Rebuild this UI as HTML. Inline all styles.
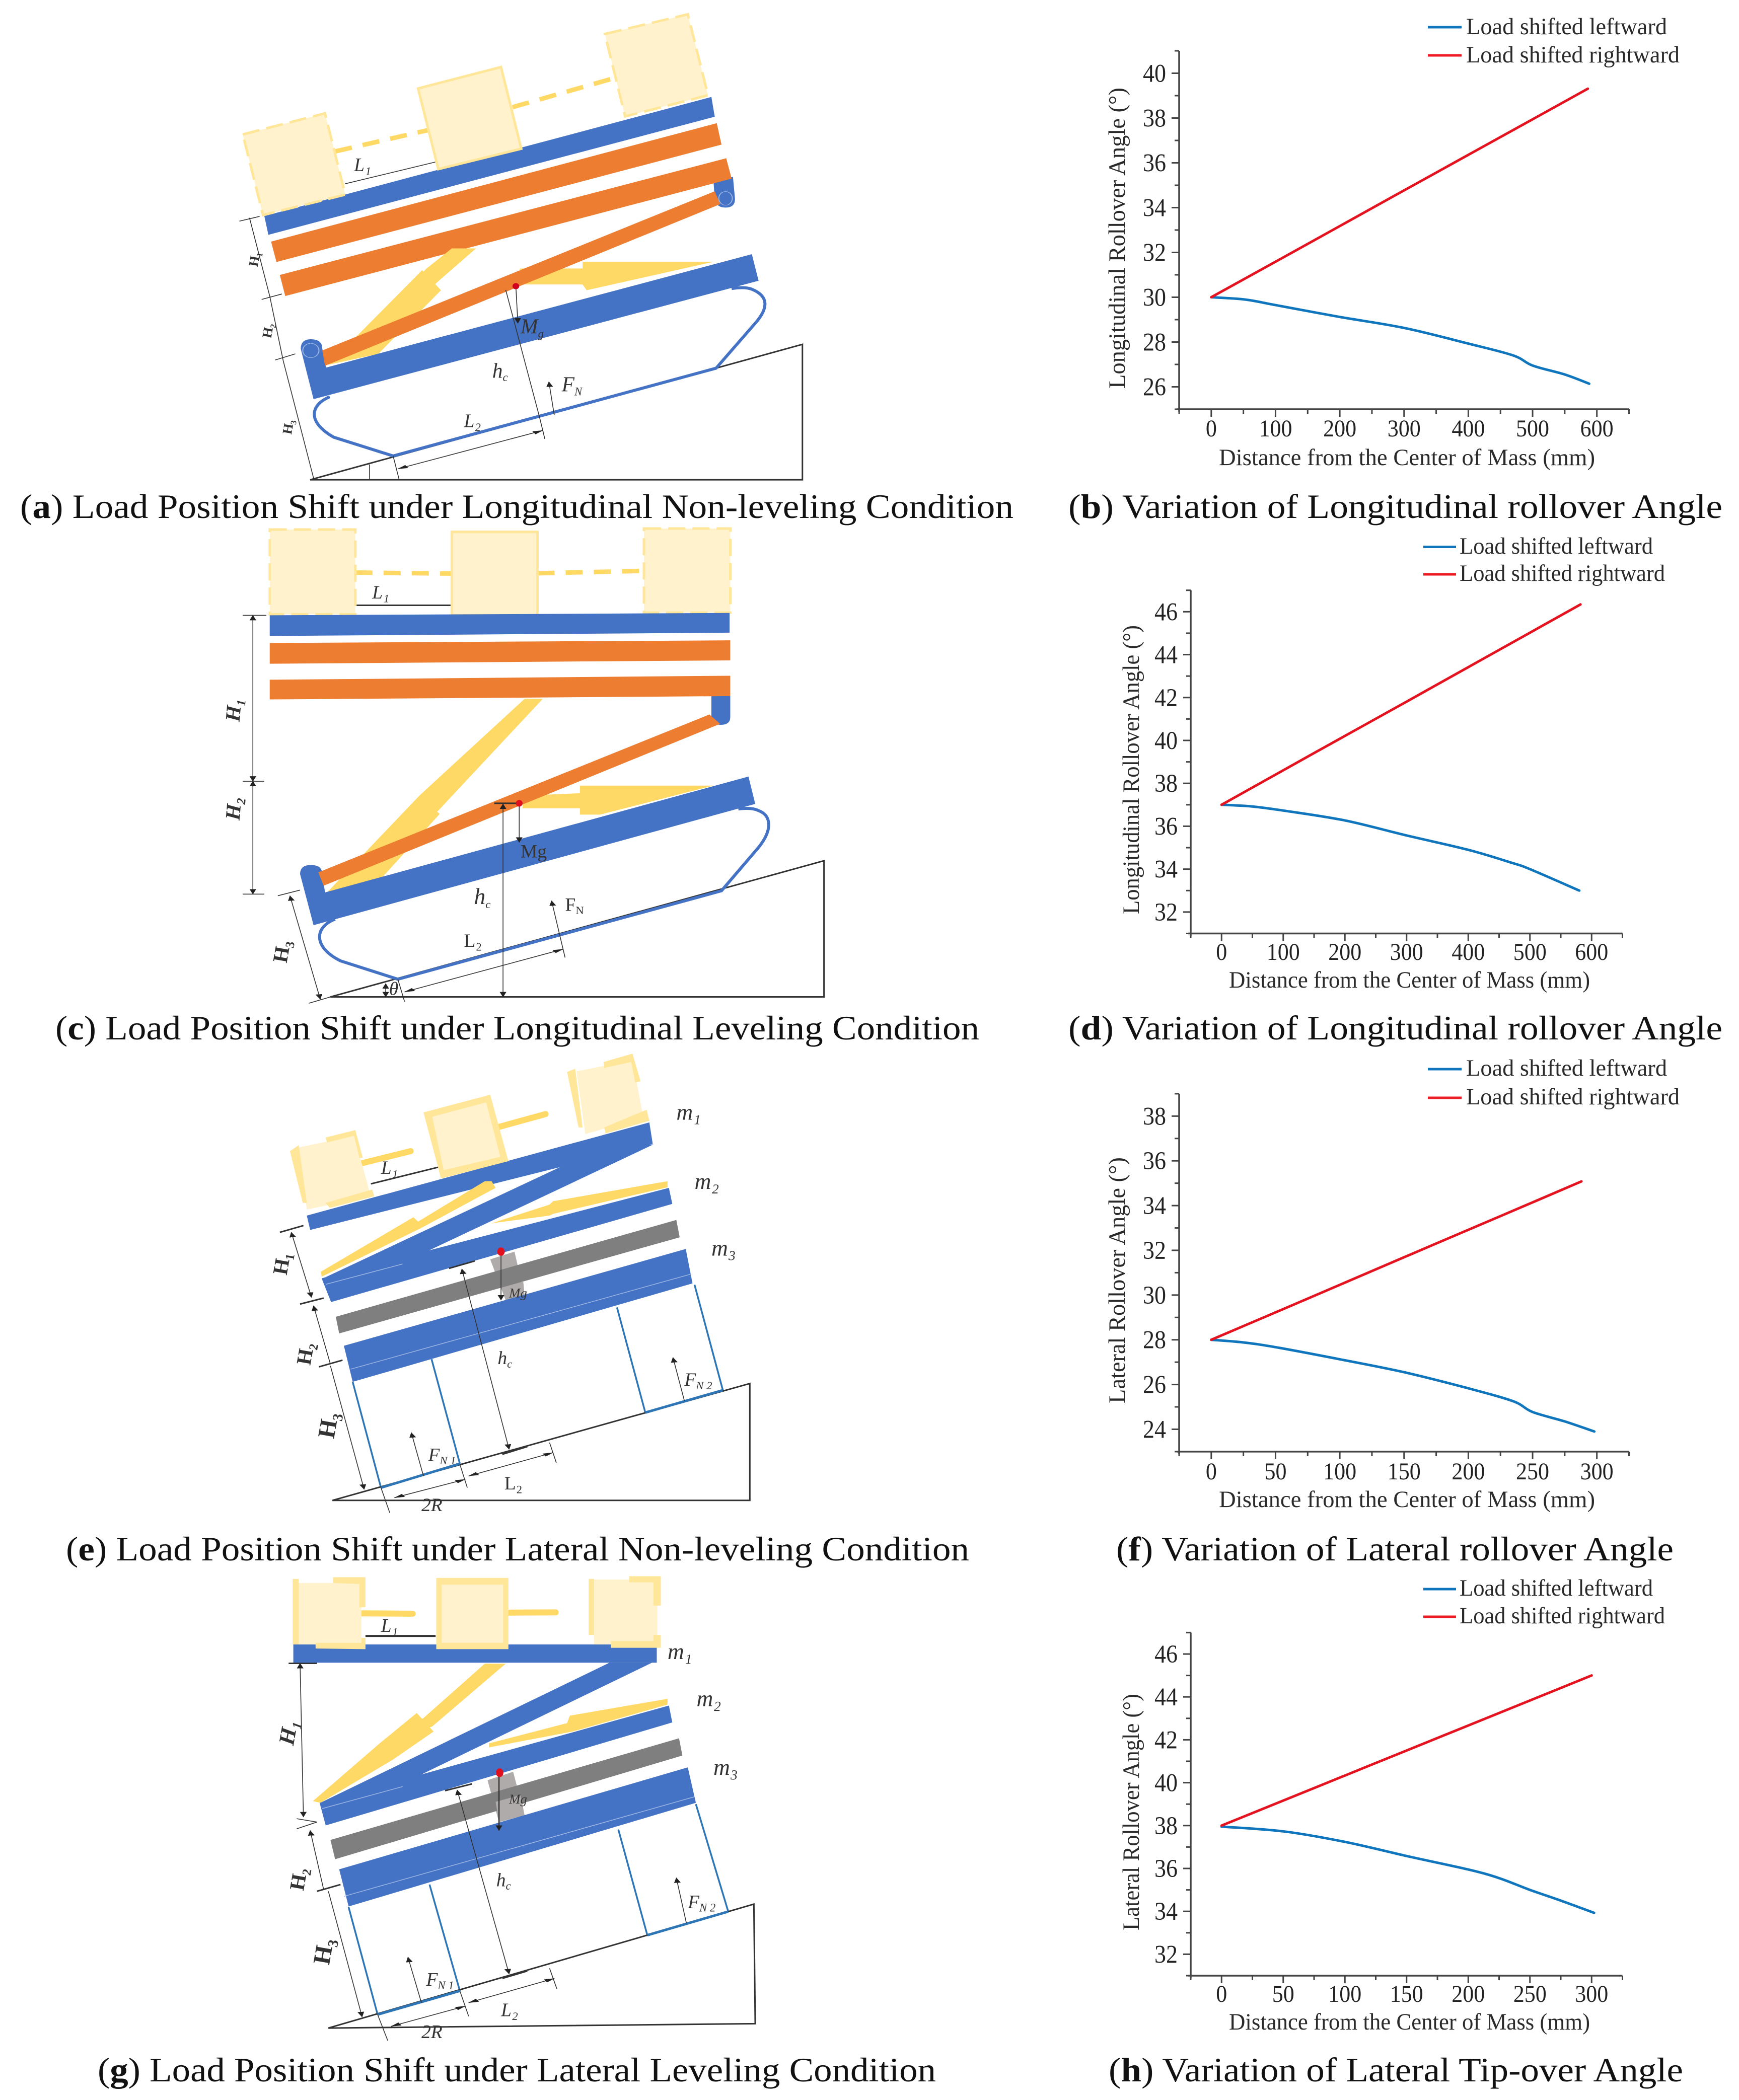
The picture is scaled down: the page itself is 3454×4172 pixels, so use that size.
<!DOCTYPE html>
<html lang="en">
<head>
<meta charset="utf-8">
<title>Load position shift and rollover angle figures</title>
<style>
html,body{margin:0;padding:0;background:#fff;}
svg{display:block;}
text{font-family:"Liberation Serif",serif;fill:#222;}
.cap{font-size:68px;fill:#111;}
.bl{fill:#4472C4;}
.or{fill:#ED7D31;}
.ye{fill:#FFD966;}
.cr{fill:#FFF2CC;stroke:#FFE699;stroke-width:5;vector-effect:non-scaling-stroke;}
.gh{stroke-dasharray:34 14;}
.co{fill:#FFE699;}
.cl{fill:#FFF2CC;}
.gr{fill:#7F7F7F;}
.lg{fill:#AFABAB;}
.tr{fill:none;stroke:#4472C4;stroke-width:6;stroke-linejoin:round;vector-effect:non-scaling-stroke;}
.leg{fill:none;stroke:#2E75B6;stroke-width:3.5;vector-effect:non-scaling-stroke;}
.gd{fill:none;stroke:#333;stroke-width:3;vector-effect:non-scaling-stroke;}
.dm{fill:none;stroke:#333;stroke-width:1.6;vector-effect:non-scaling-stroke;}
.ds{fill:none;stroke:#FFD966;stroke-width:9;stroke-dasharray:34 22;vector-effect:non-scaling-stroke;}
.st{fill:none;stroke:#FFD966;stroke-width:12;stroke-linecap:round;vector-effect:non-scaling-stroke;}
.lt{fill:none;stroke:#9DB7E4;stroke-width:1.5;vector-effect:non-scaling-stroke;}
.dt{font-size:56px;font-style:italic;fill:#333;}
.db{font-size:52px;font-weight:bold;fill:#333;}
.ax{font-size:47px;fill:#2a2a2a;}
.sb{font-size:34px;}
</style>
</head>
<body>
<svg xmlns="http://www.w3.org/2000/svg" width="3454" height="4172" viewBox="0 0 3454 4172">
<defs>
<marker id="arr" markerUnits="userSpaceOnUse" markerWidth="16" markerHeight="12" refX="15" refY="6" orient="auto-start-reverse"><path d="M0,1 L16,6 L0,11 Z" fill="#222"/></marker>
</defs>
<rect width="3454" height="4172" fill="#fff"/>

<!-- Diagram A -->
<g transform="matrix(1.3393,0,0,0.676,0,0)">
<polyline class="ds" points="497,445 640,380"/>
<polyline class="ds" points="760,315 910,230"/>
<polygon class="dm" points="512,540 648,475"/>
<polygon class="bl" points="392,635 1055,285 1060,343 398,690"/>
<polygon class="cr gh" points="360,395 482,333 512,572 390,632"/>
<polygon class="cr" points="620,260 743,197 773,437 650,497"/>
<polygon class="cr gh" points="897,100 1020,42 1050,280 927,342"/>
<polygon class="or" points="402,710 1063,362 1070,425 410,770"/>
<path class="bl" d="M1058,530 L1087,520 L1090,585 Q1090,610 1076,610 Q1062,610 1060,585 Z"/>
<polygon class="or" points="415,808 1077,465 1085,525 423,870"/>
<polygon class="ye" points="670,730 706,730 652,823 640,845 625,805 632,790"/>
<polygon class="ye" points="626,794 654,853 561,1040 487,1072"/>
<polygon class="ye" points="771,789 864,789 864,769 1059,769 870,853 864,836 771,836"/>
<path class="bl" d="M446,1025 Q446,997 461,997 Q478,997 478,1025 L484,1080 L1115,747 L1125,825 L465,1173 Z"/>
<polygon class="or" points="478,1030 1060,562 1068,600 482,1075"/>
<polygon class="gd" points="460,1410 1190,1012 1190,1410"/>
<path class="tr" d="M489,1166 C460,1190 455,1240 495,1285 L583,1340 L1062,1082 L1120,950 C1140,905 1140,870 1115,850 Q1105,842 1085,848"/>
<polyline class="dm" points="370,640 400,870 420,1060 465,1405"/>
<polyline class="dm" points="355,650 385,636"/>
<polyline class="dm" points="388,880 418,864"/>
<polyline class="dm" points="408,1058 438,1040"/>
<polyline class="dm" points="750,852 800,1225"/>
<polyline class="dm" points="765,841 768,950" marker-end="url(#arr)"/>
<polyline class="dm" points="822,1220 814,1122" marker-end="url(#arr)"/>
<polyline class="dm" points="590,1378 805,1265" marker-start="url(#arr)" marker-end="url(#arr)"/>
<polyline class="dm" points="583,1340 592,1410"/>
<polyline class="dm" points="800,1225 808,1290"/>
<polyline class="dm" points="548,1365 548,1410"/>
<ellipse cx="765" cy="841" rx="5" ry="9" fill="#D0021B"/>
<ellipse cx="1076" cy="583" rx="10" ry="20" fill="none" stroke="#9DB7E4" stroke-width="1.5"/>
<ellipse cx="461" cy="1030" rx="12" ry="21" fill="none" stroke="#9DB7E4" stroke-width="1.5"/>
<text class="dt" transform="translate(525 503) scale(.5 1)">L₁</text>
<text class="db" transform="translate(382 785) scale(.5 1) rotate(-80)" style="font-size:40px">H₁</text>
<text class="db" transform="translate(402 995) scale(.5 1) rotate(-80)" style="font-size:40px">H₂</text>
<text class="db" transform="translate(432 1278) scale(.5 1) rotate(-80)" style="font-size:40px">H₃</text>
<text class="dt" transform="translate(772 980) scale(.5 1)" style="font-size:62px">M<tspan dy="12" class="sb">g</tspan></text>
<text class="dt" transform="translate(730 1110) scale(.5 1)" style="font-size:62px">h<tspan dy="10" class="sb">c</tspan></text>
<text class="dt" transform="translate(833 1150) scale(.5 1)" style="font-size:62px">F<tspan dy="12" class="sb">N</tspan></text>
<text class="dt" transform="translate(688 1255) scale(.5 1)">L₂</text>
</g>
<text class="cap" x="40" y="1029" textLength="1973" lengthAdjust="spacingAndGlyphs">(<tspan font-weight="bold">a</tspan>) Load Position Shift under Longitudinal Non-leveling Condition</text>

<!-- Diagram C -->
<g transform="matrix(1.3393,0,0,0.6633,0,1040)">
<polyline class="ds" points="527,147 670,150"/>
<polyline class="ds" points="797,149 955,142"/>
<polyline class="dm" style="stroke-width:3" points="527,245 670,245"/>
<polygon class="cr gh" points="400,18 527,18 527,272 400,272"/>
<polygon class="cr" points="670,25 797,25 797,275 670,275"/>
<polygon class="cr gh" points="955,15 1083,15 1083,267 955,267"/>
<polygon class="bl" points="400,275 1082,268 1082,327 400,337"/>
<polygon class="or" points="400,358 1083,350 1083,410 400,420"/>
<path class="bl" d="M1055,510 L1083,510 L1083,580 Q1083,603 1069,603 Q1055,603 1055,580 Z"/>
<polygon class="or" points="400,468 1083,456 1083,517 400,527"/>
<polygon class="ye" points="778,525 805,525 650,860 640,875 622,830 622,815"/>
<polygon class="ye" points="622,815 652,870 560,1075 485,1105"/>
<polygon class="ye" points="775,815 860,808 860,785 1058,785 890,872 860,872 860,853 775,853"/>
<path class="bl" d="M445,1050 Q445,1023 461,1023 Q478,1023 478,1050 L482,1105 L1110,758 L1120,840 L465,1203 Z"/>
<polygon class="or" points="472,1045 1052,572 1068,600 480,1085"/>
<polygon class="gd" points="490,1418 1222,1010 1222,1418"/>
<polyline class="dm" points="490,1418 458,1437"/>
<path class="tr" d="M497,1185 C465,1210 465,1270 505,1310 L590,1365 L1070,1100 L1125,970 C1145,920 1145,875 1125,860 Q1115,850 1095,855"/>
<polyline class="dm" points="375,275 375,772" marker-start="url(#arr)" marker-end="url(#arr)"/>
<polyline class="dm" points="375,772 375,1110" marker-start="url(#arr)" marker-end="url(#arr)"/>
<polyline class="dm" points="360,275 395,275"/>
<polyline class="dm" points="360,772 392,772"/>
<polyline class="dm" points="360,1110 392,1110"/>
<polyline class="dm" points="430,1115 475,1425" marker-start="url(#arr)" marker-end="url(#arr)"/>
<polyline class="dm" points="412,1115 445,1098"/>
<polyline class="dm" points="746,1418 746,840" marker-start="url(#arr)" marker-end="url(#arr)"/>
<polyline class="dm" style="stroke-width:3" points="733,838 770,838"/>
<polyline class="dm" points="770,838 770,955" marker-end="url(#arr)"/>
<polyline class="dm" points="838,1300 818,1130" marker-end="url(#arr)"/>
<polyline class="dm" points="600,1403 835,1275" marker-start="url(#arr)" marker-end="url(#arr)"/>
<polyline class="dm" points="590,1365 600,1432"/>
<polyline class="dm" points="572,1378 572,1418" marker-start="url(#arr)" marker-end="url(#arr)"/>
<ellipse cx="770" cy="838" rx="5" ry="10" fill="#E0101E"/>
<text class="dt" transform="translate(552 225) scale(.5 1)">L₁</text>
<text class="db" transform="translate(355 595) scale(.5 1) rotate(-85)" style="font-style:italic;font-size:62px">H₁</text>
<text class="db" transform="translate(355 890) scale(.5 1) rotate(-85)" style="font-style:italic;font-size:62px">H₂</text>
<text class="db" transform="translate(425 1318) scale(.5 1) rotate(-80)" style="font-size:62px">H₃</text>
<text class="dt" transform="translate(772 1000) scale(.5 1)" style="font-style:normal">Mg</text>
<text class="dt" transform="translate(703 1140) scale(.5 1)" style="font-size:68px">h<tspan dy="12" class="sb">c</tspan></text>
<text class="dt" transform="translate(838 1160) scale(.5 1)" style="font-style:normal">F<tspan dy="10" class="sb">N</tspan></text>
<text class="dt" transform="translate(688 1268) scale(.5 1)" style="font-style:normal">L₂</text>
<text class="dt" transform="translate(577 1412) scale(.5 1)">θ</text>
</g>
<text class="cap" x="110" y="2065" textLength="1835" lengthAdjust="spacingAndGlyphs">(<tspan font-weight="bold">c</tspan>) Load Position Shift under Longitudinal Leveling Condition</text>

<!-- Diagram E -->
<g transform="matrix(1.3393,0,0,0.6633,0,2080)">
<polyline class="dm" style="stroke-width:3" points="550,410 650,360"/>
<polyline class="st" points="535,349 609,312"/>
<polyline class="st" points="737,241 809,201"/>
<polygon class="bl" points="455,505 963,226 968,290 460,548"/>
<polygon class="cl" points="443,301 525,266 550,447 455,487"/>
<polygon class="co" points="430,312 443,294 455,467 449,467"/>
<polygon class="co" points="483,271 527,249 538,332 533,332 525,266 485,286"/>
<polygon class="co" points="483,467 552,427 555,447 489,482"/>
<polygon class="co" points="628,196 727,143 754,342 654,394"/>
<polygon class="cl" points="641,209 721,166 742,329 658,369"/>
<polygon class="cl" points="855,73 938,40 954,211 868,261"/>
<polygon class="co" points="841,75 853,65 864,241 858,241"/>
<polygon class="co" points="895,45 938,20 950,103 942,106 936,45 896,63"/>
<polygon class="co" points="896,241 959,188 963,221 898,259"/>
<polygon class="bl" points="902,292 969,292 601,643 477,695"/>
<polygon class="bl" points="477,693 992,422 997,470 491,764"/>
<polyline class="lt" points="483,711 597,650"/>
<polygon class="ye" points="476,673 613,510 620,523 719,402 729,402 735,422 624,543 477,688"/>
<polygon class="ye" points="729,528 815,472 820,462 990,402 990,420 820,500 815,505"/>
<polygon class="lg" points="727,636 763,613 778,744 750,759"/>
<polygon class="gr" points="498,808 1003,518 1008,570 503,858"/>
<polygon class="lg" points="748,719 776,703 778,744 750,759"/>
<polygon class="bl" points="510,895 1017,605 1027,708 523,1003"/>
<polyline class="lt" points="520,965 1025,680"/>
<polyline class="leg" points="523,1003 565,1320"/>
<polyline class="leg" points="640,935 682,1248"/>
<polyline class="leg" points="915,780 957,1095"/>
<polyline class="leg" points="1030,712 1072,1028"/>
<polygon class="gd" points="493,1358 1112,1008 1112,1358"/>
<polyline class="leg" style="stroke-width:5" points="565,1320 682,1248"/>
<polyline class="leg" style="stroke-width:5" points="957,1095 1072,1028"/>
<polyline class="dm" points="432,555 462,750" marker-start="url(#arr)" marker-end="url(#arr)"/>
<polyline class="dm" points="465,775 490,950" marker-start="url(#arr)"/>
<polyline class="dm" points="490,955 540,1325" marker-end="url(#arr)"/>
<polyline class="gd" points="415,555 450,535"/>
<polyline class="gd" points="445,770 480,752"/>
<polyline class="gd" points="473,958 508,938"/>
<polyline class="dm" points="685,665 755,1205" marker-start="url(#arr)" marker-end="url(#arr)"/>
<polyline class="gd" points="666,663 704,641"/>
<polyline class="gd" points="745,1220 782,1197"/>
<polyline class="dm" points="743,613 743,758" marker-end="url(#arr)"/>
<polyline class="dm" points="628,1285 610,1155" marker-end="url(#arr)"/>
<polyline class="dm" points="1015,1060 998,930" marker-end="url(#arr)"/>
<polyline class="dm" points="585,1350 690,1295" marker-start="url(#arr)" marker-end="url(#arr)"/>
<polyline class="dm" points="695,1285 820,1215" marker-start="url(#arr)" marker-end="url(#arr)"/>
<polyline class="dm" points="565,1320 578,1395"/>
<polyline class="dm" points="682,1250 693,1320"/>
<polyline class="dm" points="815,1185 825,1245"/>
<ellipse cx="743" cy="613" rx="5.5" ry="12.5" fill="#E0101E"/>
<text class="dt" transform="translate(1003 218) scale(.5 1)" style="font-size:68px">m₁</text>
<text class="dt" transform="translate(1030 425) scale(.5 1)" style="font-size:68px">m₂</text>
<text class="dt" transform="translate(1055 625) scale(.5 1)" style="font-size:68px">m₃</text>
<text class="dt" transform="translate(565 380) scale(.5 1)">L₁</text>
<text class="db" transform="translate(425 685) scale(.5 1) rotate(-80)" style="font-size:62px">H₁</text>
<text class="db" transform="translate(460 955) scale(.5 1) rotate(-80)" style="font-size:62px">H₂</text>
<text class="db" transform="translate(495 1175) scale(.5 1) rotate(-80)" style="font-size:72px">H₃</text>
<text class="dt" transform="translate(755 750) scale(.5 1)" style="font-size:40px">Mg</text>
<text class="dt" transform="translate(738 950) scale(.5 1)">h<tspan dy="10" class="sb">c</tspan></text>
<text class="dt" transform="translate(635 1240) scale(.5 1)">F<tspan dy="10" class="sb">N 1</tspan></text>
<text class="dt" transform="translate(1015 1015) scale(.5 1)">F<tspan dy="10" class="sb">N 2</tspan></text>
<text class="dt" transform="translate(748 1325) scale(.5 1)" style="font-style:normal">L₂</text>
<text class="dt" transform="translate(625 1390) scale(.5 1)">2R</text>
</g>
<text class="cap" x="131" y="3100" textLength="1794" lengthAdjust="spacingAndGlyphs">(<tspan font-weight="bold">e</tspan>) Load Position Shift under Lateral Non-leveling Condition</text>

<!-- Diagram G -->
<g transform="matrix(1.3393,0,0,0.6709,0,3120)">
<polyline class="dm" style="stroke-width:4" points="542,194 646,194"/>
<polyline class="st" points="535,127 612,128"/>
<polyline class="st" points="748,125 824,124"/>
<rect class="bl" x="435" y="219" width="539" height="54"/>
<rect class="cl" x="443" y="37" width="93" height="182"/>
<rect class="co" x="434" y="25" width="9" height="194"/>
<polygon class="co" points="494,20 542,20 542,109 533,109 533,40 494,37"/>
<polygon class="co" points="468,214 536,214 536,200 542,200 542,233 468,231"/>
<rect class="co" x="647" y="22" width="107" height="211"/>
<rect class="cl" x="655" y="42" width="91" height="172"/>
<rect class="cl" x="881" y="27" width="94" height="192"/>
<rect class="co" x="873" y="25" width="8" height="166"/>
<polygon class="co" points="933,17 980,17 980,104 969,104 969,35 933,35"/>
<polygon class="co" points="906,209 969,209 969,191 980,191 980,229 906,229"/>
<polygon class="bl" points="904,273 967,273 597,631 475,688"/>
<polygon class="ye" points="719,276 750,276 641,462 630,470 620,445 628,437"/>
<polygon class="ye" points="618,422 643,477 582,561 475,688 464,683 563,512"/>
<polygon class="ye" points="725,512 841,452 845,430 990,380 990,397 849,477 725,524"/>
<polygon class="bl" points="474,688 992,400 997,450 483,755"/>
<polyline class="lt" points="478,705 597,640"/>
<polygon class="lg" points="723,621 761,596 778,725 740,745"/>
<polygon class="gr" points="490,798 1007,497 1012,548 497,855"/>
<polygon class="lg" points="735,685 772,665 778,725 740,745"/>
<polygon class="bl" points="503,885 1020,583 1032,688 517,995"/>
<polyline class="lt" points="510,965 1030,670"/>
<polyline class="leg" points="517,997 560,1315"/>
<polyline class="leg" points="637,930 682,1245"/>
<polyline class="leg" points="917,767 960,1080"/>
<polyline class="leg" points="1032,692 1080,1010"/>
<polygon class="gd" points="487,1355 1118,988 1120,1342"/>
<polyline class="leg" style="stroke-width:5" points="560,1315 682,1245"/>
<polyline class="leg" style="stroke-width:5" points="960,1080 1080,1010"/>
<polyline class="dm" points="445,275 450,730" marker-start="url(#arr)" marker-end="url(#arr)"/>
<polyline class="dm" points="440,735 470,745 440,765"/>
<polyline class="dm" points="460,770 480,945" marker-start="url(#arr)"/>
<polyline class="dm" points="487,950 537,1322" marker-end="url(#arr)"/>
<polyline class="gd" points="428,275 470,275"/>
<polyline class="gd" points="470,950 505,930"/>
<polyline class="dm" points="678,650 755,1195" marker-start="url(#arr)" marker-end="url(#arr)"/>
<polyline class="gd" points="660,652 700,632"/>
<polyline class="gd" points="745,1208 782,1186"/>
<polyline class="dm" style="stroke-width:2.5" points="740,598 740,770" marker-end="url(#arr)"/>
<polyline class="dm" points="625,1280 605,1145" marker-end="url(#arr)"/>
<polyline class="dm" points="1018,1045 1003,910" marker-end="url(#arr)"/>
<polyline class="dm" points="580,1350 690,1290" marker-start="url(#arr)" marker-end="url(#arr)"/>
<polyline class="dm" points="695,1280 822,1208" marker-start="url(#arr)" marker-end="url(#arr)"/>
<polyline class="dm" points="560,1315 575,1392"/>
<polyline class="dm" points="682,1245 695,1320"/>
<polyline class="dm" points="815,1178 826,1240"/>
<ellipse cx="741" cy="599" rx="5.5" ry="13" fill="#E0101E"/>
<text class="dt" transform="translate(990 262) scale(.5 1)" style="font-size:68px">m₁</text>
<text class="dt" transform="translate(1033 402) scale(.5 1)" style="font-size:68px">m₂</text>
<text class="dt" transform="translate(1058 605) scale(.5 1)" style="font-size:68px">m₃</text>
<text class="dt" transform="translate(565 182) scale(.5 1)">L₁</text>
<text class="db" transform="translate(435 520) scale(.5 1) rotate(-80)" style="font-style:italic;font-size:66px">H₁</text>
<text class="db" transform="translate(450 950) scale(.5 1) rotate(-80)" style="font-size:62px">H₂</text>
<text class="db" transform="translate(488 1170) scale(.5 1) rotate(-80)" style="font-size:72px">H₃</text>
<text class="dt" transform="translate(755 690) scale(.5 1)" style="font-size:40px">Mg</text>
<text class="dt" transform="translate(736 935) scale(.5 1)">h<tspan dy="10" class="sb">c</tspan></text>
<text class="dt" transform="translate(632 1230) scale(.5 1)">F<tspan dy="10" class="sb">N 1</tspan></text>
<text class="dt" transform="translate(1020 1000) scale(.5 1)">F<tspan dy="10" class="sb">N 2</tspan></text>
<text class="dt" transform="translate(743 1320) scale(.5 1)">L₂</text>
<text class="dt" transform="translate(625 1385) scale(.5 1)">2R</text>
</g>
<text class="cap" x="194" y="4135" textLength="1665" lengthAdjust="spacingAndGlyphs">(<tspan font-weight="bold">g</tspan>) Load Position Shift under Lateral Leveling Condition</text>

<!-- Chart B -->
<g id="chart-b">
<text class="ax" x="2912" y="68" textLength="399" lengthAdjust="spacingAndGlyphs">Load shifted leftward</text>
<text class="ax" x="2912" y="124" textLength="424" lengthAdjust="spacingAndGlyphs">Load shifted rightward</text>
<line x1="2836" x2="2903" y1="54" y2="54" stroke="#0F75BD" stroke-width="5"/>
<line x1="2836" x2="2903" y1="110" y2="110" stroke="#ED1C24" stroke-width="5"/>
<text class="ax" x="2421" y="924" textLength="747" lengthAdjust="spacingAndGlyphs">Distance from the Center of Mass (mm)</text>
<text class="ax" transform="translate(2234 772) rotate(-90)" textLength="598" lengthAdjust="spacingAndGlyphs">Longitudinal Rollover Angle (°)</text>
</g>
<text class="cap" x="2122" y="1029" textLength="1299" lengthAdjust="spacingAndGlyphs">(<tspan font-weight="bold">b</tspan>) Variation of Longitudinal rollover Angle</text>

<!-- Chart D -->
<g id="chart-d">
<text class="ax" x="2899" y="1100" textLength="384" lengthAdjust="spacingAndGlyphs">Load shifted leftward</text>
<text class="ax" x="2899" y="1154" textLength="408" lengthAdjust="spacingAndGlyphs">Load shifted rightward</text>
<line x1="2827" x2="2892" y1="1086.5" y2="1086.5" stroke="#0F75BD" stroke-width="5"/>
<line x1="2827" x2="2892" y1="1141" y2="1141" stroke="#ED1C24" stroke-width="5"/>
<text class="ax" x="2441" y="1962" textLength="717" lengthAdjust="spacingAndGlyphs">Distance from the Center of Mass (mm)</text>
<text class="ax" transform="translate(2262 1816) rotate(-90)" textLength="574" lengthAdjust="spacingAndGlyphs">Longitudinal Rollover Angle (°)</text>
</g>
<text class="cap" x="2122" y="2065" textLength="1299" lengthAdjust="spacingAndGlyphs">(<tspan font-weight="bold">d</tspan>) Variation of Longitudinal rollover Angle</text>

<!-- Chart F -->
<g id="chart-f">
<text class="ax" x="2912" y="2137" textLength="399" lengthAdjust="spacingAndGlyphs">Load shifted leftward</text>
<text class="ax" x="2912" y="2194" textLength="424" lengthAdjust="spacingAndGlyphs">Load shifted rightward</text>
<line x1="2836" x2="2903" y1="2124" y2="2124" stroke="#0F75BD" stroke-width="5"/>
<line x1="2836" x2="2903" y1="2181" y2="2181" stroke="#ED1C24" stroke-width="5"/>
<text class="ax" x="2421" y="2994" textLength="747" lengthAdjust="spacingAndGlyphs">Distance from the Center of Mass (mm)</text>
<text class="ax" transform="translate(2234 2788) rotate(-90)" textLength="489" lengthAdjust="spacingAndGlyphs">Lateral Rollover Angle (°)</text>
</g>
<text class="cap" x="2217" y="3100" textLength="1107" lengthAdjust="spacingAndGlyphs">(<tspan font-weight="bold">f</tspan>) Variation of Lateral rollover Angle</text>

<!-- Chart H -->
<g id="chart-h">
<text class="ax" x="2899" y="3170" textLength="384" lengthAdjust="spacingAndGlyphs">Load shifted leftward</text>
<text class="ax" x="2899" y="3225" textLength="408" lengthAdjust="spacingAndGlyphs">Load shifted rightward</text>
<line x1="2827" x2="2892" y1="3157" y2="3157" stroke="#0F75BD" stroke-width="5"/>
<line x1="2827" x2="2892" y1="3212" y2="3212" stroke="#ED1C24" stroke-width="5"/>
<text class="ax" x="2441" y="4032" textLength="717" lengthAdjust="spacingAndGlyphs">Distance from the Center of Mass (mm)</text>
<text class="ax" transform="translate(2262 3835) rotate(-90)" textLength="470" lengthAdjust="spacingAndGlyphs">Lateral Rollover Angle (°)</text>
</g>
<text class="cap" x="2202" y="4135" textLength="1141" lengthAdjust="spacingAndGlyphs">(<tspan font-weight="bold">h</tspan>) Variation of Lateral Tip-over Angle</text>
</svg>

<script>
const chartBLeftX = [0, 52, 100, 200, 300, 400, 470, 500, 550, 588];
const chartBLeftY = [30, 29.9, 29.65, 29.12, 28.63, 27.93, 27.4, 26.95, 26.55, 26.14];
const chartBRightX = [0, 150, 300, 450, 586];
const chartBRightY = [30, 32.38, 34.77, 37.15, 39.31];
const chartBXTicks = [0, 100, 200, 300, 400, 500, 600];
const chartBYTicks = [26, 28, 30, 32, 34, 36, 38, 40];

const chartDLeftX = [0, 50, 100, 200, 300, 400, 470, 500, 580];
const chartDLeftY = [37, 36.92, 36.73, 36.27, 35.57, 34.9, 34.3, 34, 33];
const chartDRightX = [0, 150, 300, 450, 582];
const chartDRightY = [37, 39.41, 41.81, 44.22, 46.34];
const chartDXTicks = [0, 100, 200, 300, 400, 500, 600];
const chartDYTicks = [32, 34, 36, 38, 40, 42, 44, 46];

const chartFLeftX = [0, 25, 50, 100, 150, 200, 235, 250, 275, 298];
const chartFLeftY = [28, 27.88, 27.67, 27.13, 26.55, 25.83, 25.25, 24.77, 24.35, 23.9];
const chartFRightX = [0, 75, 150, 225, 288];
const chartFRightY = [28, 29.84, 31.69, 33.53, 35.08];
const chartFXTicks = [0, 50, 100, 150, 200, 250, 300];
const chartFYTicks = [24, 26, 28, 30, 32, 34, 36, 38];

const chartHLeftX = [0, 50, 100, 150, 200, 225, 250, 275, 302];
const chartHLeftY = [37.95, 37.73, 37.24, 36.58, 35.95, 35.55, 35, 34.5, 33.93];
const chartHRightX = [0, 75, 150, 225, 300];
const chartHRightY = [38, 39.75, 41.5, 43.25, 45];
const chartHXTicks = [0, 50, 100, 150, 200, 250, 300];
const chartHYTicks = [32, 34, 36, 38, 40, 42, 44, 46];

const NS = 'http://www.w3.org/2000/svg';

function makeNode(parent, tag, attrs, label) {
  const node = document.createElementNS(NS, tag);
  Object.keys(attrs).forEach(function (k) { node.setAttribute(k, attrs[k]); });
  if (label !== undefined) node.textContent = label;
  parent.appendChild(node);
  return node;
}

function linearScale(d0, d1, r0, r1) {
  return function (v) { return r0 + (v - d0) * (r1 - r0) / (d1 - d0); };
}

function smoothPath(pts) {
  let d = 'M' + pts[0][0].toFixed(1) + ',' + pts[0][1].toFixed(1);
  for (let i = 0; i < pts.length - 1; i++) {
    const p0 = pts[Math.max(i - 1, 0)], p1 = pts[i], p2 = pts[i + 1], p3 = pts[Math.min(i + 2, pts.length - 1)];
    const c1x = p1[0] + (p2[0] - p0[0]) / 6, c1y = p1[1] + (p2[1] - p0[1]) / 6;
    const c2x = p2[0] - (p3[0] - p1[0]) / 6, c2y = p2[1] - (p3[1] - p1[1]) / 6;
    d += ' C' + c1x.toFixed(1) + ',' + c1y.toFixed(1) + ' ' + c2x.toFixed(1) + ',' + c2y.toFixed(1) + ' ' + p2[0].toFixed(1) + ',' + p2[1].toFixed(1);
  }
  return d;
}

function drawSeries(g, sx, sy, xs, ys, color, name) {
  const pts = xs.map(function (x, i) { return [sx(x), sy(ys[i])]; });
  const el = makeNode(g, 'path', { d: smoothPath(pts), fill: 'none', stroke: color, 'stroke-width': 5, 'stroke-linejoin': 'round', 'stroke-linecap': 'round' });
  
  
}

function drawChart(opts) {
  const g = document.getElementById(opts.id);
  const sx = linearScale(opts.xDomain[0], opts.xDomain[1], opts.xRange[0], opts.xRange[1]);
  const sy = linearScale(opts.yDomain[0], opts.yDomain[1], opts.yRange[0], opts.yRange[1]);
  const left = opts.xRange[0], right = opts.xRange[1], bottom = opts.yRange[0], top = opts.yRange[1];
  const axisColor = '#444';

  const xAxis = makeNode(g, 'line', { x1: left - 5, x2: right, y1: bottom, y2: bottom, stroke: axisColor, 'stroke-width': 3.5 });
  
  
  const yAxis = makeNode(g, 'line', { x1: left, x2: left, y1: top, y2: bottom + 5, stroke: axisColor, 'stroke-width': 3.5 });
  
  

  const xStep = opts.xTicks[1] - opts.xTicks[0];
  const yStep = opts.yTicks[1] - opts.yTicks[0];

  opts.xTicks.forEach(function (v) {
    const tick = makeNode(g, 'line', { x1: sx(v), x2: sx(v), y1: bottom, y2: bottom + 15, stroke: axisColor, 'stroke-width': 3 });
    
    
    const text = String(v);
    const label = makeNode(g, 'text', { x: sx(v), y: opts.xLabelY, 'text-anchor': 'middle', 'font-size': 48, fill: '#2a2a2a', textLength: text.length * 22, lengthAdjust: 'spacingAndGlyphs' }, text);
    
    
  });
  for (let v = opts.xTicks[0] - xStep / 2; v <= opts.xDomain[1] + 0.001; v += xStep) {
    const minor = makeNode(g, 'line', { x1: sx(v), x2: sx(v), y1: bottom, y2: bottom + 9, stroke: axisColor, 'stroke-width': 3 });
    
    
  }
  opts.yTicks.forEach(function (v) {
    const tick = makeNode(g, 'line', { x1: left - 15, x2: left, y1: sy(v), y2: sy(v), stroke: axisColor, 'stroke-width': 3 });
    
    
    const text = String(v);
    const label = makeNode(g, 'text', { x: left - 26, y: sy(v) + 17, 'text-anchor': 'end', 'font-size': 51, fill: '#2a2a2a', textLength: text.length * 23, lengthAdjust: 'spacingAndGlyphs' }, text);
    
    
  });
  for (let v = opts.yTicks[0] - yStep / 2; v <= opts.yDomain[1] + 0.001; v += yStep) {
    const minor = makeNode(g, 'line', { x1: left - 9, x2: left, y1: sy(v), y2: sy(v), stroke: axisColor, 'stroke-width': 3 });
    
    
  }

  drawSeries(g, sx, sy, opts.leftX, opts.leftY, '#0F75BD', 'series-load-shifted-leftward');
  drawSeries(g, sx, sy, opts.rightX, opts.rightY, '#E5131F', 'series-load-shifted-rightward');
}

drawChart({ id: 'chart-b', xDomain: [-50, 650], yDomain: [25, 41], xRange: [2342, 3235.5], yRange: [813, 101], xLabelY: 867,
  xTicks: chartBXTicks, yTicks: chartBYTicks, leftX: chartBLeftX, leftY: chartBLeftY, rightX: chartBRightX, rightY: chartBRightY });
drawChart({ id: 'chart-d', xDomain: [-50, 650], yDomain: [31, 47], xRange: [2365, 3222.5], yRange: [1854.5, 1172.7], xLabelY: 1907,
  xTicks: chartDXTicks, yTicks: chartDYTicks, leftX: chartDLeftX, leftY: chartDLeftY, rightX: chartDRightX, rightY: chartDRightY });
drawChart({ id: 'chart-f', xDomain: [-25, 325], yDomain: [23, 39], xRange: [2342, 3235.5], yRange: [2883.9, 2172.9], xLabelY: 2939,
  xTicks: chartFXTicks, yTicks: chartFYTicks, leftX: chartFLeftX, leftY: chartFLeftY, rightX: chartFRightX, rightY: chartFRightY });
drawChart({ id: 'chart-h', xDomain: [-25, 325], yDomain: [31, 47], xRange: [2365, 3222.5], yRange: [3925, 3243.4], xLabelY: 3977,
  xTicks: chartHXTicks, yTicks: chartHYTicks, leftX: chartHLeftX, leftY: chartHLeftY, rightX: chartHRightX, rightY: chartHRightY });
</script>
</body>
</html>
